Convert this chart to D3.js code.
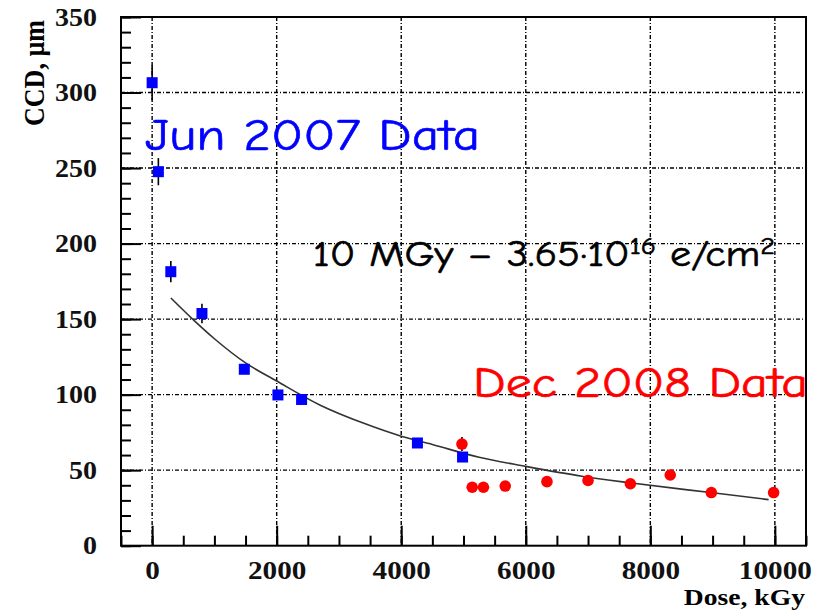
<html>
<head>
  <meta charset="utf-8">
  <script src="https://d3js.org/d3.v7.min.js"></script>
  <style>
    body { margin: 0; background: #fff; }
    .tick text { font-family: "Liberation Serif", "Times New Roman", serif; font-weight: bold; font-size: 25px; fill: #111; }
    .grid line { stroke: #000; stroke-width: 1.4; stroke-dasharray: 4,2,1,2; }
    .note { font-family: "Comic Sans MS", "Comic Neue", "Open Sans", sans-serif; stroke-width: 0.6; }
  </style>
</head>
<body>
<script>
// Jun 2007 data (blue squares): dose kGy, CCD um, error
var junDose = [0, 100, 300, 800, 1480, 2020, 2400, 4260, 4985];
var junCCD  = [306.5, 247.6, 181.4, 153.7, 116.8, 99.8, 96.8, 68, 58.7];
var junErr  = [11.5, 9, 7, 6.4, 3, 2, 2, 2, 2];

// Dec 2008 data (red circles)
var decDose = [4975, 5140, 5320, 5670, 6340, 7000, 7680, 8320, 8980, 9980];
var decCCD  = [67.3, 38.7, 38.7, 39.5, 42.4, 43.2, 41, 46.8, 35.2, 35.2];
var decErr  = [4.6, 0, 0, 0, 0, 0, 0, 0, 0, 0];

// fitted curve
var fitDose = [300, 650, 1000, 1500, 2000, 2700, 3400, 4000, 4500, 5250, 6000, 6900, 7700, 9000, 9900];
var fitCCD  = [164, 150, 137, 121, 109, 93, 81, 72.5, 67, 58.5, 52.5, 46, 41.5, 35, 30.5];

var xTicks = [0, 2000, 4000, 6000, 8000, 10000];
var yTicks = [0, 50, 100, 150, 200, 250, 300, 350];

var W = 827, H = 611;
var L = 121, R = 806, T = 17, B = 545.7;

var svg = d3.select("body").append("svg")
  .attr("width", W).attr("height", H);

var x = d3.scaleLinear().domain([-500, 10500]).range([L, R]);
var y = d3.scaleLinear().domain([0, 350]).range([B, T]);

// grid
var grid = svg.append("g").attr("class", "grid");
grid.selectAll("line.gx").data(xTicks).enter().append("line")
  .attr("x1", d => x(d)).attr("x2", d => x(d)).attr("y1", T).attr("y2", B);
grid.selectAll("line.gy").data(yTicks.filter(d => d > 0 && d < 350)).enter().append("line")
  .attr("x1", L).attr("x2", R).attr("y1", d => y(d)).attr("y2", d => y(d));

// frame
svg.append("rect").attr("x", L).attr("y", T).attr("width", R - L).attr("height", B - T)
  .attr("fill", "none").attr("stroke", "#000").attr("stroke-width", 2);

// axes: major ticks inward with labels, minor ticks inward
var xMinor = d3.range(-500, 10501, 500);
var yMinor = d3.range(0, 351, 10);

svg.append("g").attr("transform", "translate(0," + B + ")")
  .call(d3.axisBottom(x).tickValues(xMinor).tickSize(-10).tickFormat(""))
  .call(g => g.select(".domain").remove())
  .call(g => g.selectAll("line").attr("stroke-width", 2));

var xa = svg.append("g").attr("transform", "translate(0," + B + ")")
  .call(d3.axisBottom(x).tickValues(xTicks).tickSize(-20).tickPadding(10).tickFormat(d3.format("d")))
  .call(g => g.select(".domain").remove())
  .call(g => g.selectAll("line").attr("stroke-width", 2));
xa.selectAll("text").attr("dy", "0.95em")
  .attr("textLength", d => String(d).length * 14.6).attr("lengthAdjust", "spacingAndGlyphs");

svg.append("g").attr("transform", "translate(" + L + ",0)")
  .call(d3.axisLeft(y).tickValues(yMinor).tickSize(-10).tickFormat(""))
  .call(g => g.select(".domain").remove())
  .call(g => g.selectAll("line").attr("stroke-width", 2));

var ya = svg.append("g").attr("transform", "translate(" + L + ",0)")
  .call(d3.axisLeft(y).tickValues(yTicks).tickSize(-20).tickPadding(24).tickFormat(d3.format("d")))
  .call(g => g.select(".domain").remove())
  .call(g => g.selectAll("line").attr("stroke-width", 2));
ya.selectAll("text").attr("x", -24)
  .attr("textLength", d => String(d).length * 14).attr("lengthAdjust", "spacingAndGlyphs");

// axis titles
svg.append("text")
  .attr("transform", "translate(44,20) scale(1.15,1) rotate(-90)")
  .attr("text-anchor", "end")
  .style("font-family", "'Liberation Serif', serif").style("font-weight", "bold").style("font-size", "26px")
  .text("CCD, \u00b5m");

svg.append("text")
  .attr("transform", "translate(805,605) scale(1.15,1)")
  .attr("text-anchor", "end")
  .style("font-family", "'Liberation Serif', serif").style("font-weight", "bold").style("font-size", "24px")
  .text("Dose, kGy");

// fit curve
var fit = fitDose.map((d, i) => [d, fitCCD[i]]);
svg.append("path").datum(fit)
  .attr("fill", "none").attr("stroke", "#333").attr("stroke-width", 1.6)
  .attr("d", d3.line().x(d => x(d[0])).y(d => y(d[1])).curve(d3.curveMonotoneX));

// error bars
var jun = junDose.map((d, i) => ({x: d, y: junCCD[i], e: junErr[i]}));
var dec = decDose.map((d, i) => ({x: d, y: decCCD[i], e: decErr[i]}));

svg.append("g").selectAll("line").data(jun.concat(dec).filter(d => d.e > 0)).enter().append("line")
  .attr("x1", d => x(d.x)).attr("x2", d => x(d.x))
  .attr("y1", d => y(d.y - d.e)).attr("y2", d => y(d.y + d.e))
  .attr("stroke", "#000").attr("stroke-width", 1.6);

// markers
svg.append("g").selectAll("rect").data(jun).enter().append("rect")
  .attr("x", d => x(d.x) - 5.5).attr("y", d => y(d.y) - 5.5)
  .attr("width", 11).attr("height", 11).attr("fill", "#0000ff");

svg.append("g").selectAll("circle").data(dec).enter().append("circle")
  .attr("cx", d => x(d.x)).attr("cy", d => y(d.y)).attr("r", 5.8).attr("fill", "#ff0000");

// annotations
svg.append("text").attr("class", "note")
  .attr("x", 145).attr("y", 150).attr("fill", "#0000ff").attr("stroke", "#0000ff").style("font-size", "44px")
  .attr("textLength", 335).attr("lengthAdjust", "spacingAndGlyphs")
  .text("Jun 2007 Data");

var t = svg.append("text").attr("class", "note")
  .attr("x", 313).attr("y", 266).attr("fill", "#000").attr("stroke", "#000").style("font-size", "36px")
  .attr("textLength", 462).attr("lengthAdjust", "spacingAndGlyphs");
t.append("tspan").text("10 MGy \u2013 3.65\u00b710");
t.append("tspan").attr("dy", -12).style("font-size", "24px").text("16");
t.append("tspan").attr("dy", 12).text(" e/cm");
t.append("tspan").attr("dy", -12).style("font-size", "24px").text("2");

svg.append("text").attr("class", "note")
  .attr("x", 473).attr("y", 397).attr("fill", "#ff0000").attr("stroke", "#ff0000").style("font-size", "42px")
  .attr("textLength", 335).attr("lengthAdjust", "spacingAndGlyphs")
  .text("Dec 2008 Data");
</script>
</body>
</html>
